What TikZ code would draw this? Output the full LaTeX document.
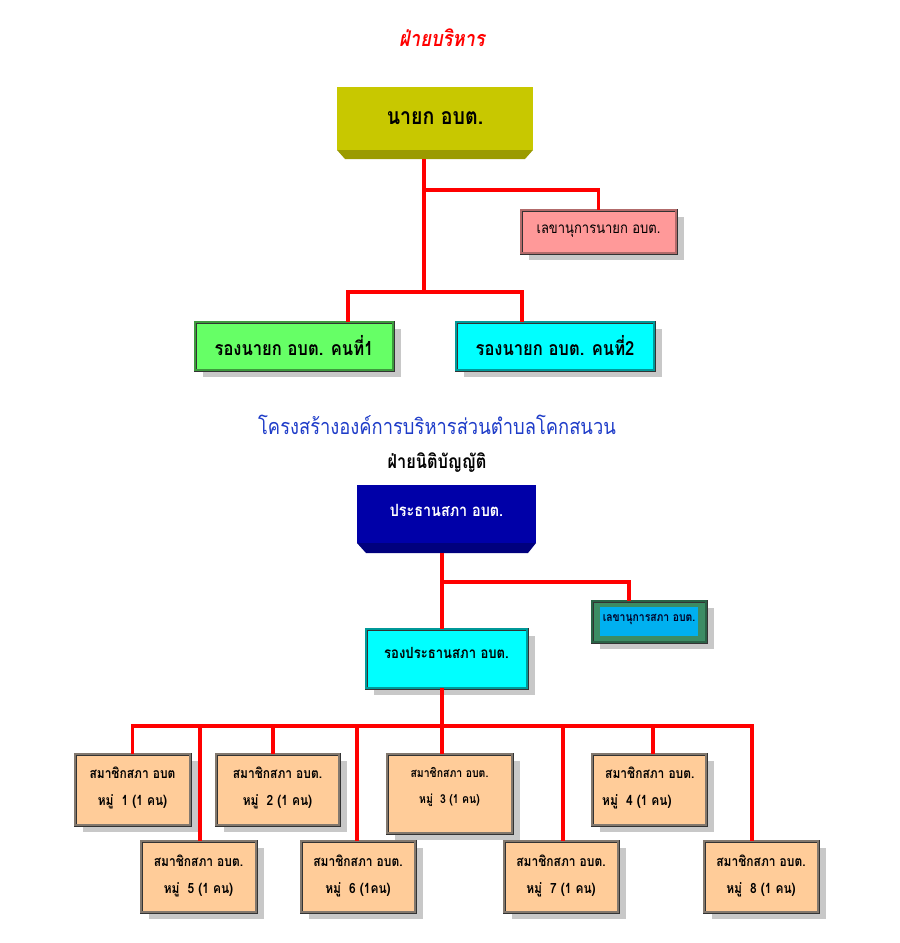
\documentclass[tikz,border=0pt]{standalone}
\usepackage{fontspec}
\usetikzlibrary{shadows}
\newfontfamily\thai[Script=Thai, FakeStretch=0.85]{Loma}
\definecolor{olive1}{RGB}{200,200,0}
\definecolor{olive2}{RGB}{155,155,0}
\definecolor{navy1}{RGB}{0,0,168}
\definecolor{navy2}{RGB}{0,0,125}
\definecolor{pinkbox}{RGB}{255,153,153}
\definecolor{greenbox}{RGB}{102,255,102}
\definecolor{cyanbox}{RGB}{0,255,255}
\definecolor{peach}{RGB}{255,204,153}
\definecolor{seag}{RGB}{60,140,100}
\definecolor{skyb}{RGB}{0,176,240}
\definecolor{titleblue}{RGB}{30,60,200}
\definecolor{bandgray}{RGB}{130,120,110}
\definecolor{shad}{RGB}{200,200,200}
\begin{document}
\begin{tikzpicture}[x=1pt,y=-1pt,
  conn/.style={draw=red, line width=3.2pt},
  obox/.style={rectangle, draw=black!80, line width=0.7pt, double=#1, double distance=1.6pt,
    inner sep=0pt, outer sep=0pt,
    drop shadow={shadow xshift=8pt, shadow yshift=-7pt, fill=shad, opacity=1}},
  flatbox/.style={rectangle, draw=none, inner sep=0pt, outer sep=0pt},
  txt/.style={inner sep=0pt, font=\thai\bfseries\fontsize{#1}{#1}\selectfont},
  mtxt/.style={inner sep=0pt, align=center, font=\thai\bfseries\fontsize{14.1}{27}\selectfont},
]
\useasboundingbox (0,0) rectangle (900,943);

% ---------- titles
\node[inner sep=0pt, text=red, font=\thai\bfseries\itshape\fontsize{21.6}{21.6}\selectfont] (t1) at (442,38) {ฝ่ายบริหาร};
\node[inner sep=0pt, text=titleblue, font=\thai\fontsize{21.6}{21.6}\selectfont] (t2) at (437,425) {โครงสร้างองค์การบริหารส่วนตำบลโคกสนวน};
\node[txt=19.2] (t3) at (437,463) {ฝ่ายนิติบัญญัติ};

% ---------- executive
\fill[olive2] (337,150) -- (533,150) -- (525,159) -- (345,159) -- cycle;
\node[flatbox, fill=olive1, minimum width=196pt, minimum height=63pt] (nayok) at (435,118.5) {};
\node[txt=23] at (nayok.center) {นายก อบต.};
\coordinate (nayokb) at (424,159);

\node[obox=pinkbox!70!black, fill=pinkbox, minimum width=155pt, minimum height=43pt] (sec1) at (598.5,231.5) {};
\node[inner sep=0pt, font=\thai\fontsize{15.3}{15.3}\selectfont] at (sec1.center) {เลขานุการนายก อบต.};

\node[obox=greenbox!60!black, fill=greenbox, minimum width=198pt, minimum height=48pt] (dep1) at (294,346) {};
\node[txt=19.5] at (dep1.center) {รองนายก อบต. คนที่1};
\node[obox=cyanbox!60!black, fill=cyanbox, minimum width=198pt, minimum height=48pt] (dep2) at (555,346) {};
\node[txt=19.5] at (dep2.center) {รองนายก อบต. คนที่2};

\coordinate (j0) at (424,190);
\coordinate (j1) at (424,292);
\draw[conn] (nayokb) -- (j1);
\draw[conn] (j0) -| (sec1.north);
\draw[conn] ([xshift=54pt]dep1.north) |- (j1) -| ([xshift=-33pt]dep2.north);

% ---------- legislative
\fill[navy2] (357,543) -- (536,543) -- (528,553) -- (366,553) -- cycle;
\node[flatbox, fill=navy1, minimum width=179pt, minimum height=58pt] (chair) at (446.5,514) {};
\node[txt=16.9, text=white] at ([yshift=4pt]chair.center) {ประธานสภา อบต.};
\coordinate (chairb) at (442,553);

\node[obox=seag!70!black, fill=seag, minimum width=114pt, minimum height=41pt] (sec2) at (649,621.5) {};
\node[flatbox, fill=skyb, minimum width=98pt, minimum height=29pt] (sec2in) at (sec2.center) {};
\node[txt=12.2, text=black!85!blue] at ([yshift=2pt]sec2in.center) {เลขานุการสภา อบต.};

\node[obox=cyanbox!60!black, fill=cyanbox, minimum width=161pt, minimum height=59pt] (dchair) at (446.5,658.5) {};
\node[txt=15.4] at ([yshift=6pt]dchair.center) {รองประธานสภา อบต.};

\coordinate (j2) at (442,582);
\coordinate (j3) at (442,726);
\draw[conn] (chairb) -- ([xshift=-4.5pt]dchair.north);
\draw[conn] (j2) -| ([xshift=-20pt]sec2.north);
\draw[conn] ([xshift=-4.5pt]dchair.south) -- (j3);

% ---------- members
\tikzset{mbox/.style={obox=bandgray, fill=peach, minimum height=71pt}}
\node[mbox, minimum width=115pt] (m1) at (132.5,789.5) {};
\node[mbox, minimum width=123pt] (m2) at (277.5,789.5) {};
\node[mbox, minimum width=125pt, minimum height=79pt] (m3) at (449.5,793.5) {};
\node[mbox, minimum width=114pt] (m4) at (649,789.5) {};
\node[mbox, minimum width=115pt] (m5) at (198.5,876.5) {};
\node[mbox, minimum width=114pt] (m6) at (358,876.5) {};
\node[mbox, minimum width=114pt] (m7) at (561,876.5) {};
\node[mbox, minimum width=114pt] (m8) at (761,876.5) {};

\draw[conn] (m1.north) |- (j3) -| ([xshift=-9pt]m8.north);
\draw[conn] ([xshift=-4.5pt]m2.north) -- ([xshift=-4.5pt]m2.north |- j3);
\draw[conn] ([xshift=-7.5pt]m3.north) -- (j3);
\draw[conn] ([xshift=4pt]m4.north) -- ([xshift=4pt]m4.north |- j3);
\draw[conn] ([xshift=1.5pt]m5.north) -- ([xshift=1.5pt]m5.north |- j3);
\draw[conn] ([xshift=-1pt]m6.north) -- ([xshift=-1pt]m6.north |- j3);
\draw[conn] ([xshift=2pt]m7.north) -- ([xshift=2pt]m7.north |- j3);

\node[mtxt] at ([yshift=2pt]m1.center) {สมาชิกสภา อบต\\หมู่~~1 (1 คน)};
\node[mtxt] at ([yshift=2pt]m2.center) {สมาชิกสภา อบต.\\หมู่~~2 (1 คน)};
\node[mtxt, font=\thai\bfseries\fontsize{12.3}{26}\selectfont] at ([yshift=7pt]m3.center) {สมาชิกสภา อบต.\\หมู่~~3 (1 คน)};
\node[mtxt, align=left, anchor=west] at ([xshift=-47pt,yshift=2pt]m4.center) {\hspace*{3pt}สมาชิกสภา อบต.\\หมู่~~4 (1 คน)};
\node[mtxt] at ([yshift=1pt]m5.center) {สมาชิกสภา อบต.\\หมู่~~5 (1 คน)};
\node[mtxt] at ([yshift=1pt]m6.center) {สมาชิกสภา อบต.\\หมู่~~6 (1คน)};
\node[mtxt] at ([yshift=1pt]m7.center) {สมาชิกสภา อบต.\\หมู่~~7 (1 คน)};
\node[mtxt] at ([yshift=1pt]m8.center) {สมาชิกสภา อบต.\\หมู่~~8 (1 คน)};
\end{tikzpicture}
\end{document}
